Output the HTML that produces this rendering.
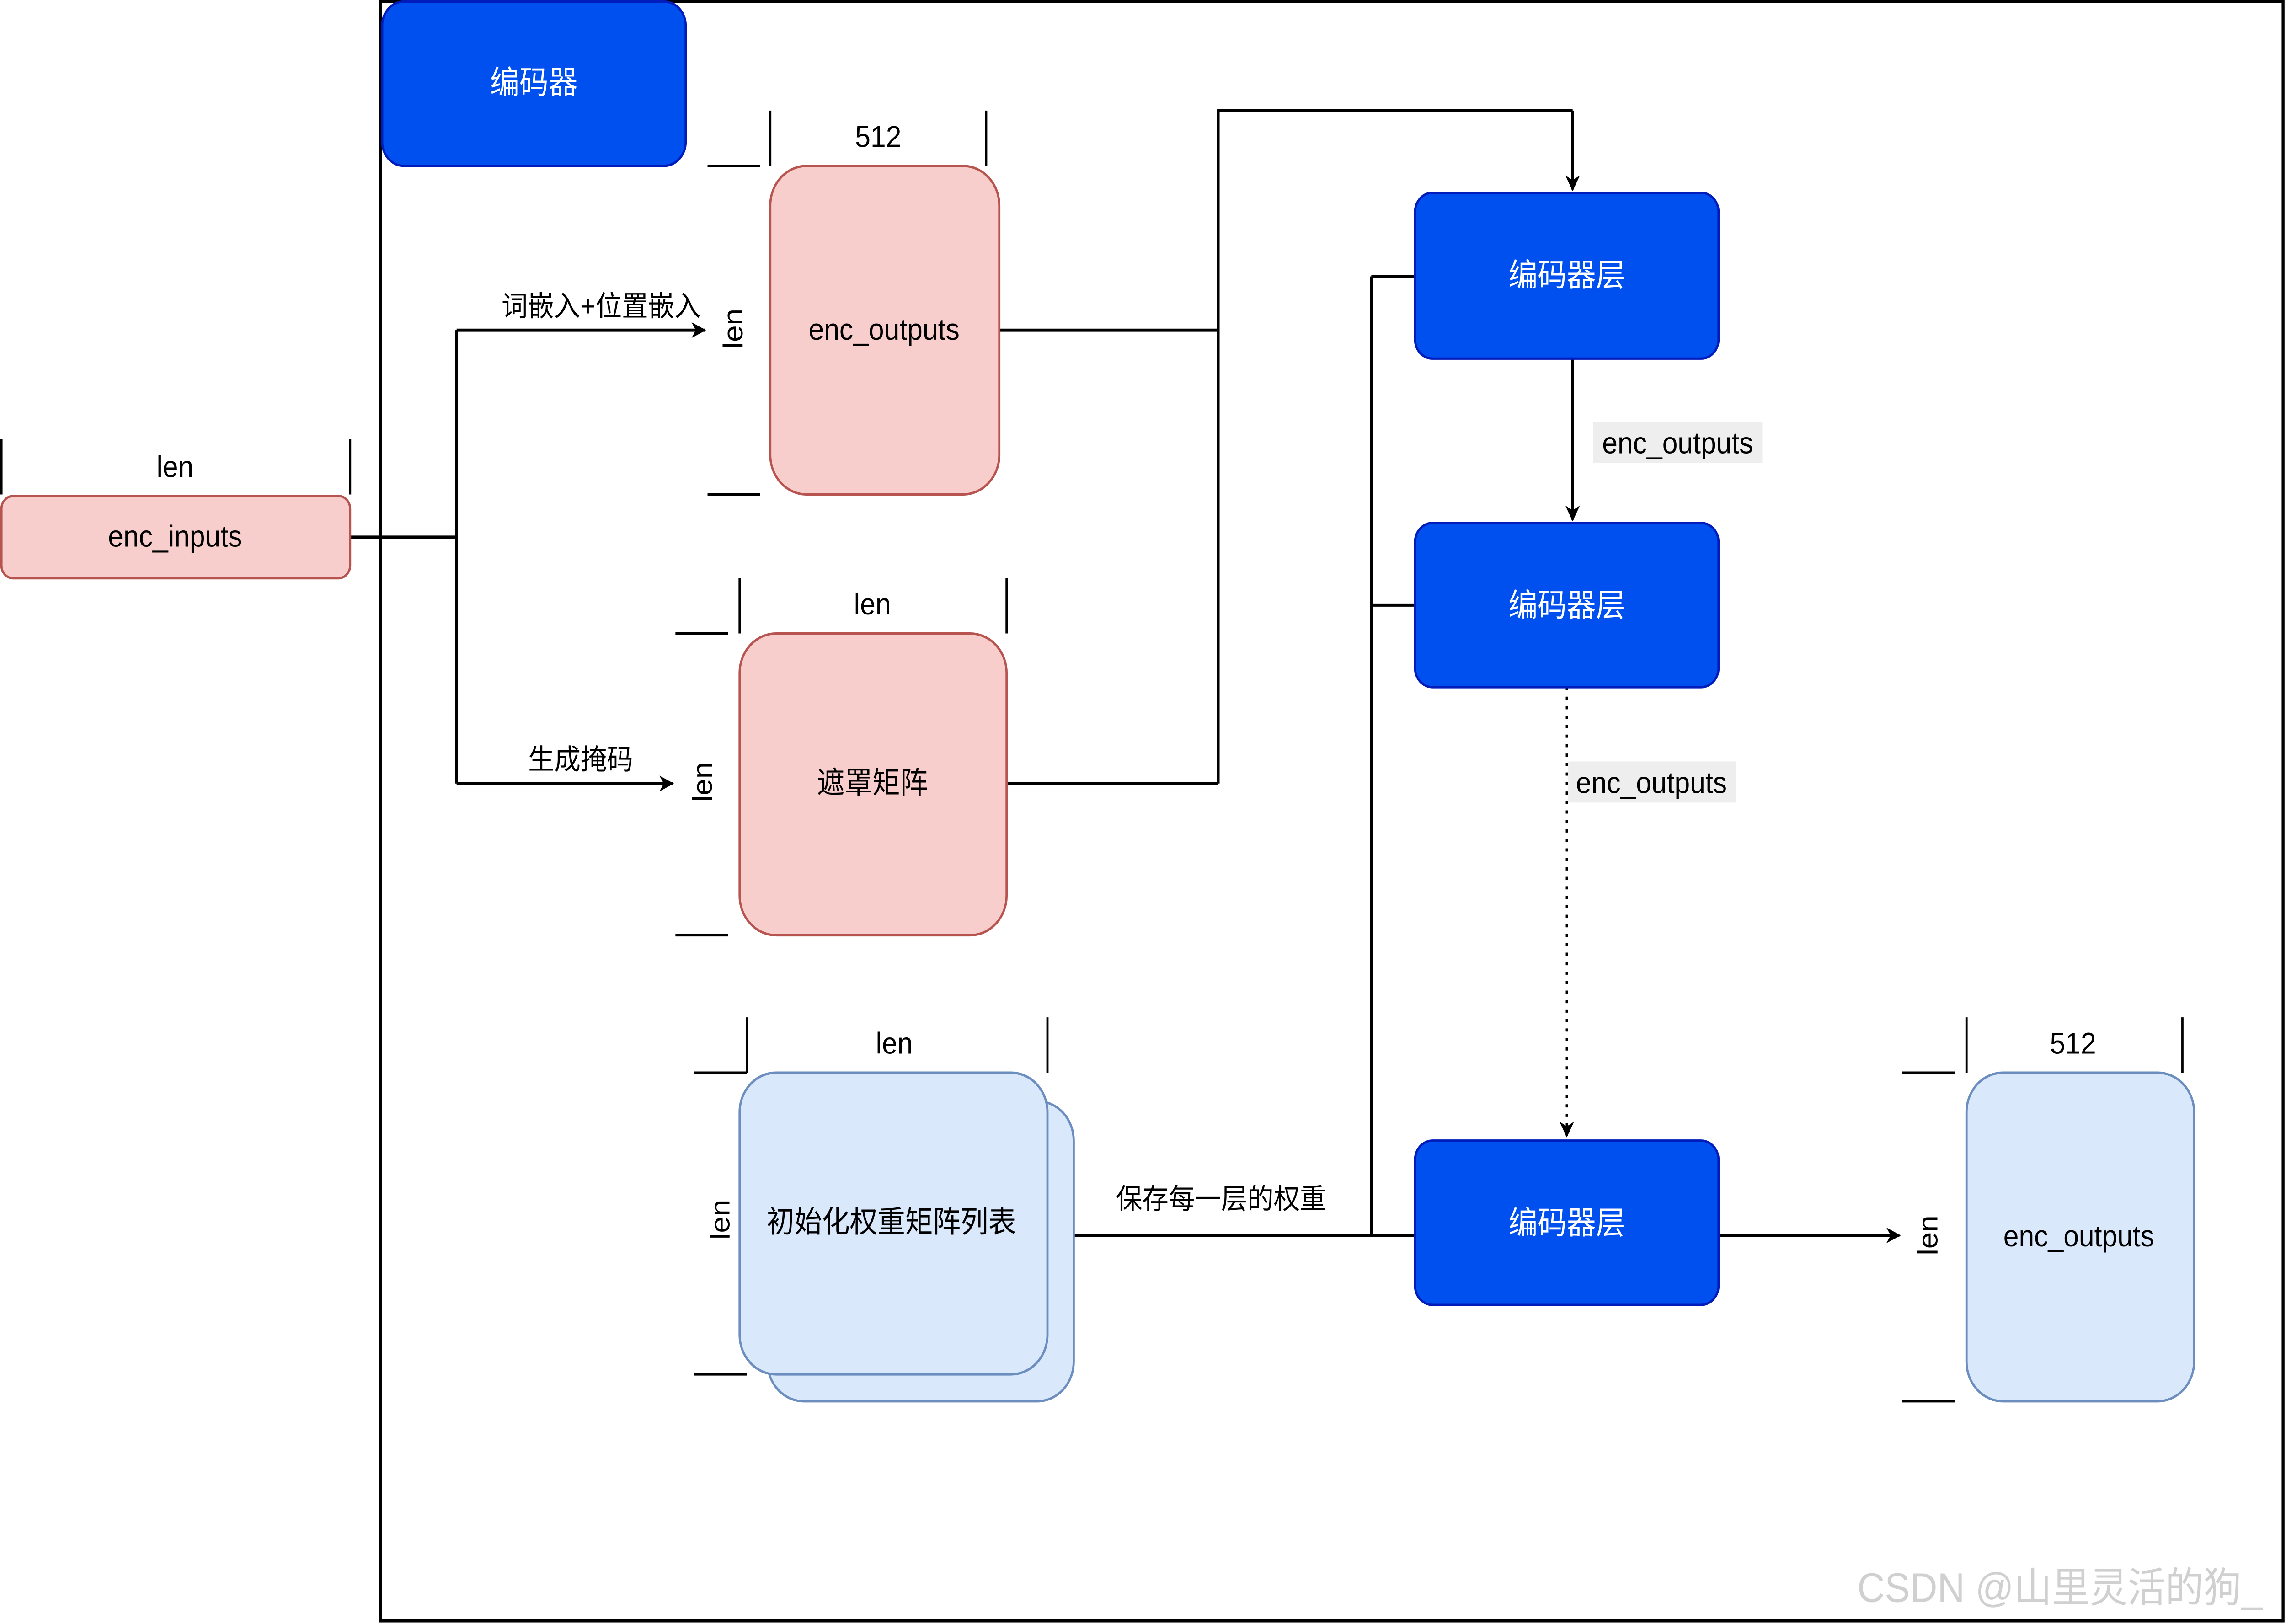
<!DOCTYPE html>
<html><head><meta charset="utf-8"><style>html,body{margin:0;padding:0;background:#fff;overflow:hidden;width:100%;height:100%;max-width:5412px;max-height:3552px}svg{display:block;width:100vw;height:100vh;max-width:5412px;max-height:3552px}text{font-family:"Liberation Sans","Noto Sans CJK SC",sans-serif}</style></head>
<body>
<svg viewBox="0 0 1567 1028" preserveAspectRatio="none" xmlns="http://www.w3.org/2000/svg">
<defs><marker id="a" markerWidth="10" markerHeight="10" refX="9" refY="5" orient="auto" markerUnits="userSpaceOnUse"><path d="M0,0 L10,5 L0,10 L3,5 Z" fill="#000"/></marker></defs>
<rect x="261" y="1" width="1304" height="1025" fill="#fff" stroke="#000" stroke-width="2"/>
<rect x="262" y="1" width="208" height="104" rx="15" fill="#0050EF" stroke="#001DBC" stroke-width="1.5"/>
<text x="366" y="59" font-size="20" fill="#fff" text-anchor="middle">编码器</text>
<g stroke="#000" stroke-width="1.5" fill="none">
<path d="M1 278V313M240 278V313"/>
<path d="M528 70V105M676 70V105M485 105H521M485 313H521"/>
<path d="M507 366V401M690 366V401M463 401H499M463 592H499"/>
<path d="M512 644V679M718 644V679M476 679H512M476 870H512"/>
<path d="M1348 644V679M1496 644V679M1304 679H1340M1304 887H1340"/>
</g>
<g stroke="#000" stroke-width="2" fill="none">
<path d="M240 340H313M313 209V496"/>
<path d="M313 209H483" marker-end="url(#a)"/>
<path d="M313 496H461" marker-end="url(#a)"/>
<path d="M685 209H835M690 496H835M835 496V70H1078"/>
<path d="M1078 70V120" marker-end="url(#a)"/>
<path d="M1078 227V329" marker-end="url(#a)"/>
<path d="M940 175V782M940 175H970M940 383H970"/>
<path d="M970 782H716" marker-end="url(#a)"/>
<path d="M1178 782H1302" marker-end="url(#a)"/>
</g>
<path d="M1074 435V719" stroke="#000" stroke-width="1.5" stroke-dasharray="2,4" fill="none" marker-end="url(#a)"/>
<rect x="1" y="314" width="239" height="52" rx="8" fill="#F8CECC" stroke="#B85450" stroke-width="1.5"/>
<rect x="528" y="105" width="157" height="208" rx="25" fill="#F8CECC" stroke="#B85450" stroke-width="1.5"/>
<rect x="507" y="401" width="183" height="191" rx="25" fill="#F8CECC" stroke="#B85450" stroke-width="1.5"/>
<rect x="526" y="697" width="210" height="190" rx="25" fill="#DAE8FC" stroke="#6C8EBF" stroke-width="1.5"/>
<rect x="507" y="679" width="211" height="191" rx="25" fill="#DAE8FC" stroke="#6C8EBF" stroke-width="1.5"/>
<rect x="1348" y="679" width="156" height="208" rx="25" fill="#DAE8FC" stroke="#6C8EBF" stroke-width="1.5"/>
<g fill="#0050EF" stroke="#001DBC" stroke-width="1.5">
<rect x="970" y="122" width="208" height="105" rx="12"/>
<rect x="970" y="331" width="208" height="104" rx="12"/>
<rect x="970" y="722" width="208" height="104" rx="12"/>
</g>
<rect x="1092" y="267" width="116" height="26" fill="#eeeeee"/>
<rect x="1075" y="482" width="115" height="26" fill="#eeeeee"/>
<g font-size="19" text-anchor="middle" fill="#000">
<text x="120" y="302">len</text>
<text x="120" y="346">enc_inputs</text>
<text x="602" y="93">512</text>
<text x="606" y="215">enc_outputs</text>
<text x="598" y="389">len</text>
<text x="598" y="502">遮罩矩阵</text>
<text x="613" y="667">len</text>
<text x="611" y="780">初始化权重矩阵列表</text>
<text x="1421" y="667">512</text>
<text x="1425" y="789">enc_outputs</text>
<text x="412" y="200" font-size="18">词嵌入+位置嵌入</text>
<text x="398" y="487" font-size="18">生成掩码</text>
<text x="837" y="765" font-size="18">保存每一层的权重</text>
<text x="1150" y="287">enc_outputs</text>
<text x="1132" y="502">enc_outputs</text>
<text transform="translate(509,208) rotate(-90)">len</text>
<text transform="translate(488,495) rotate(-90)">len</text>
<text transform="translate(500,772) rotate(-90)">len</text>
<text transform="translate(1328,782) rotate(-90)">len</text>
</g>
<g font-size="20" text-anchor="middle" fill="#fff">
<text x="1074" y="181">编码器层</text>
<text x="1074" y="390">编码器层</text>
<text x="1074" y="781">编码器层</text>
</g>
<text x="1412" y="1014" font-size="26" fill="#d0d0d0" text-anchor="middle">CSDN @山里灵活的狗_</text>
</svg>
</body></html>
